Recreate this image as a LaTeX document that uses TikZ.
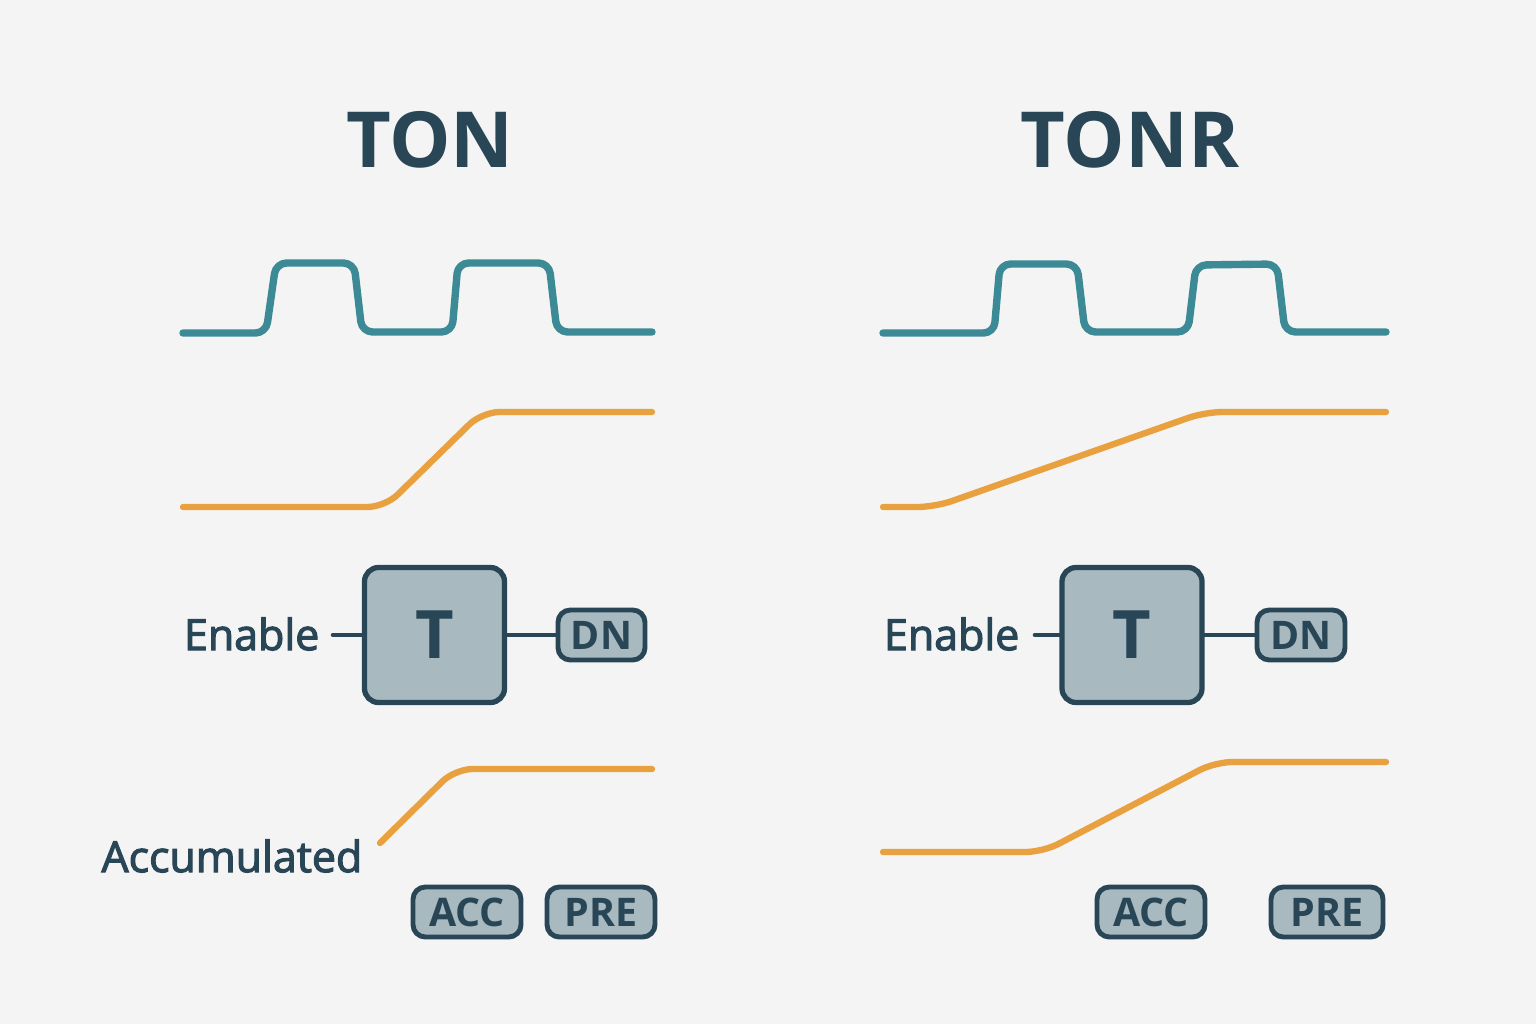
\documentclass[tikz,border=0pt]{standalone}
\usepackage{fontspec}
\setmainfont{Open Sans}
\newfontfamily\medfont{Open Sans}[FakeBold=2.6]
\definecolor{bg}{HTML}{F4F4F4}
\definecolor{teal}{HTML}{3B8A95}
\definecolor{amber}{HTML}{E9A03F}
\definecolor{ink}{HTML}{284656}
\definecolor{boxfill}{HTML}{A8B9C0}
\begin{document}
\begin{tikzpicture}[x=0.01cm,y=-0.01cm,
  title/.style={text=ink,font=\fontsize{22}{24}\selectfont\bfseries,inner sep=0pt},
  lbl/.style={text=ink,font=\medfont\fontsize{12.2}{14}\selectfont,inner sep=0pt},
  pulse/.style={draw=teal,line width=2.1pt,line cap=round,line join=round,rounded corners=3pt},
  ramp/.style={draw=amber,line width=1.8pt,line cap=round,line join=round,rounded corners=5pt},
  tbox/.style={draw=ink,fill=boxfill,line width=1.5pt,rounded corners=4pt,minimum width=140*0.01cm,minimum height=135*0.01cm,inner sep=0pt,text=ink,font=\fontsize{19}{20}\selectfont\bfseries},
  tag/.style={draw=ink,fill=boxfill,line width=1.4pt,rounded corners=3.5pt,inner sep=0pt,text=ink,font=\fontsize{11.2}{12}\selectfont\bfseries,minimum height=50*0.01cm},
  wire/.style={draw=ink,line width=1.3pt,line cap=round}]
\fill[bg] (0,0) rectangle (1536,1024);
\useasboundingbox (0,0) rectangle (1536,1024);
% ---------- TON ----------
\node[title] (tonT) at (430,140) {TON};
\draw[pulse] (183,333) -- (266,333) -- (276,263) -- (354,263) -- (362,332) -- (452,332) -- (458,263) -- (549,263) -- (557,332) -- (652,332);
\draw[ramp] (183,507) -- (385,507) -- (482,412) -- (652,412);
\node[tbox] (tonBox) at (434.5,635) {T};
\node[lbl,anchor=east] (tonEn) at (320,634) {Enable};
\node[tag,minimum width=87*0.01cm] (tonDN) at (601.5,635) {DN};
\draw[wire] ([xshift=13*0.01cm]tonEn.east |- tonBox.west) -- (tonBox.west);
\draw[wire] (tonBox.east) -- (tonDN.west);
\draw[ramp] (380,843) -- (455,769) -- (652,769);
\node[lbl,anchor=east] (tonAcc) at (363,856) {Accumulated};
\node[tag,minimum width=108*0.01cm] (tonACC) at (467,912) {ACC};
\node[tag,minimum width=108*0.01cm] (tonPRE) at (601,912) {PRE};
% ---------- TONR ----------
\node[title] (tonrT) at (1130,140) {TONR};
\draw[pulse] (883,333) -- (994,333) -- (1000,264) -- (1077,264) -- (1085,332) -- (1188,332) -- (1196,265) -- (1277,264) -- (1285,332) -- (1386,332);
\draw[ramp] (883,507) -- (935,507) -- (1205,412) -- (1386,412);
\node[tbox] (tonrBox) at (1132,635) {T};
\node[lbl,anchor=east] (tonrEn) at (1020,634) {Enable};
\node[tag,minimum width=88*0.01cm] (tonrDN) at (1301,635) {DN};
\draw[wire] ([xshift=15*0.01cm]tonrEn.east |- tonrBox.west) -- (tonrBox.west);
\draw[wire] (tonrBox.east) -- (tonrDN.west);
\draw[ramp] (883,852) -- (1043,852) -- (1215,762) -- (1386,762);
\node[tag,minimum width=108*0.01cm] (tonrACC) at (1151,912) {ACC};
\node[tag,minimum width=112*0.01cm] (tonrPRE) at (1327,912) {PRE};
\end{tikzpicture}
\end{document}
